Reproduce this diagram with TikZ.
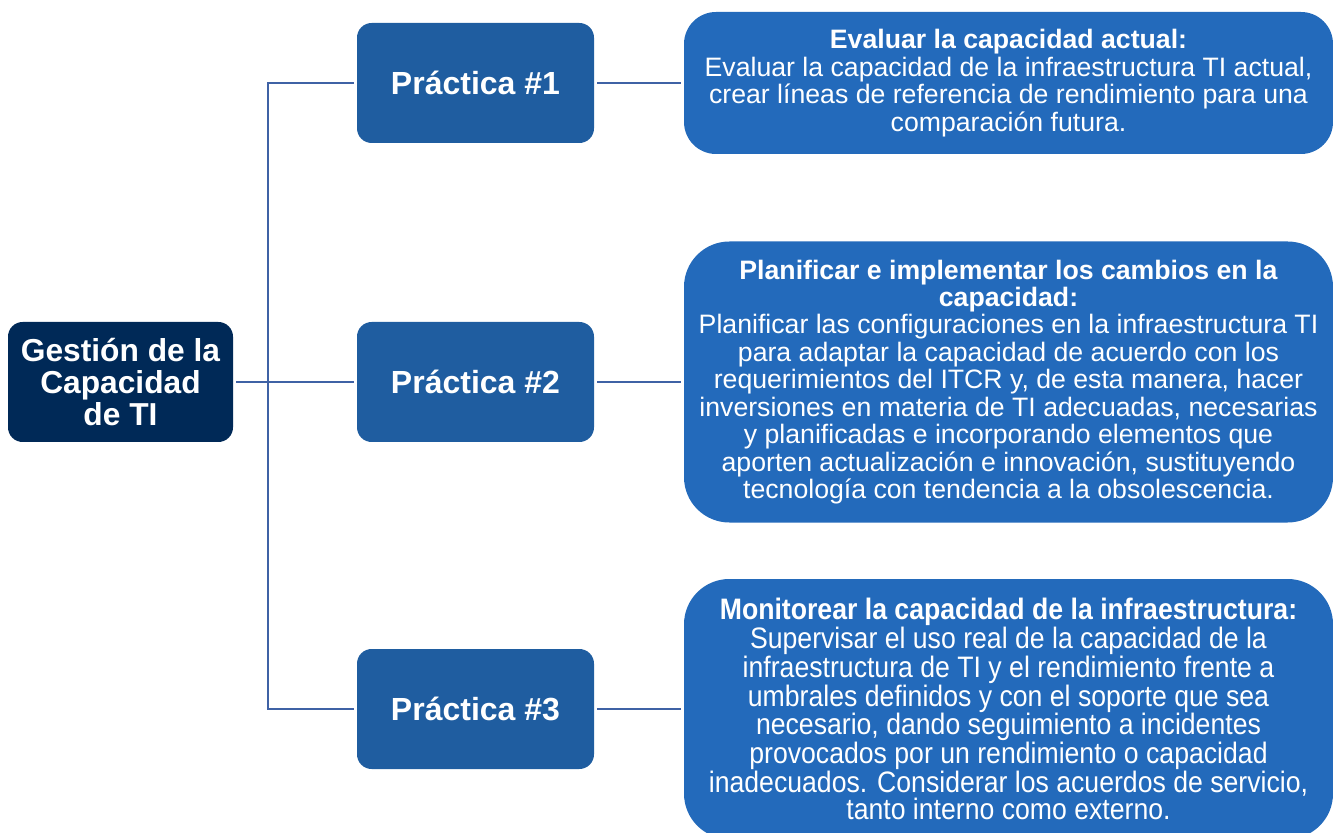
\documentclass[tikz,border=0pt]{standalone}
\usepackage{fontspec}
\setmainfont{Liberation Sans}
\newfontfamily\narrowfont[FakeStretch=0.9]{Liberation Sans}
\definecolor{rootblue}{RGB}{0,41,87}
\definecolor{stepblue}{RGB}{31,93,160}
\definecolor{infoblue}{RGB}{35,106,187}
\definecolor{linkblue}{RGB}{63,98,165}
\tikzset{
  rootbox/.style={fill=rootblue, rounded corners=11pt, minimum width=168.75pt, minimum height=90pt,
    text=white, align=center, font=\bfseries\fontsize{23.8}{24}\selectfont},
  stepbox/.style={fill=stepblue, rounded corners=11pt, minimum width=177.75pt, minimum height=90pt,
    text=white, font=\bfseries\fontsize{24}{28}\selectfont},
  infobox/.style={fill=infoblue, rounded corners=24pt, minimum width=486.75pt,
    text=white, align=center, font=\fontsize{20}{20.6}\selectfont},
  link/.style={draw=linkblue, line width=1.7pt, line join=miter, shorten <=2.25pt, shorten >=2.25pt},
}
\begin{document}
\begin{tikzpicture}[x=0.75pt, y=0.75pt]
    \useasboundingbox (0,0) rectangle (1333,832);
    %% root and the three practices
    \node[rootbox] (root) at (120.5,450) {Gestión de la\\Capacidad\\de TI};
    \node[stepbox] (p1) at (475.5,749) {Práctica \#1};
    \node[stepbox] (p2) at (475.5,450) {Práctica \#2};
    \node[stepbox] (p3) at (475.5,123) {Práctica \#3};
    %% next three nodes are the descriptions
    \node[infobox, minimum height=106.5pt] (d1) at (1008.5,749) {\textbf{Evaluar la capacidad actual:}\\
      Evaluar la capacidad de la infraestructura TI actual,\\
      crear líneas de referencia de rendimiento para una\\
      comparación futura.};
    \node[infobox, minimum height=210.75pt, rounded corners=34pt] (d2) at (1008.5,450) {\textbf{Planificar e implementar los cambios en la}\\
      \textbf{capacidad:}\\
      Planificar las configuraciones en la infraestructura TI\\
      para adaptar la capacidad de acuerdo con los\\
      requerimientos del ITCR y, de esta manera, hacer\\
      inversiones en materia de TI adecuadas, necesarias\\
      y planificadas e incorporando elementos que\\
      aporten actualización e innovación, sustituyendo\\
      tecnología con tendencia a la obsolescencia.};
    \node[infobox, minimum height=195pt, rounded corners=34pt, font=\narrowfont\fontsize{22.2}{20.3}\selectfont] (d3) at (1008.5,123) {\textbf{Monitorear la capacidad de la infraestructura:}\\
      Supervisar el uso real de la capacidad de la\\
      infraestructura de TI y el rendimiento frente a\\
      umbrales definidos y con el soporte que sea\\
      necesario, dando seguimiento a incidentes\\
      provocados por un rendimiento o capacidad\\
      inadecuados. Considerar los acuerdos de servicio,\\
      tanto interno como externo.};
    %% connectors
    \coordinate (top) at (268,749);
    \coordinate (bot) at (268,123);
    \draw[link] (root) -- (p2);
    \draw[link] (p1) -- (top) -- (bot) -- (p3);
    \draw[link] (p1) -- (d1);
    \draw[link] (p2) -- (d2);
    \draw[link] (p3) -- (d3);
\end{tikzpicture}
\end{document}
